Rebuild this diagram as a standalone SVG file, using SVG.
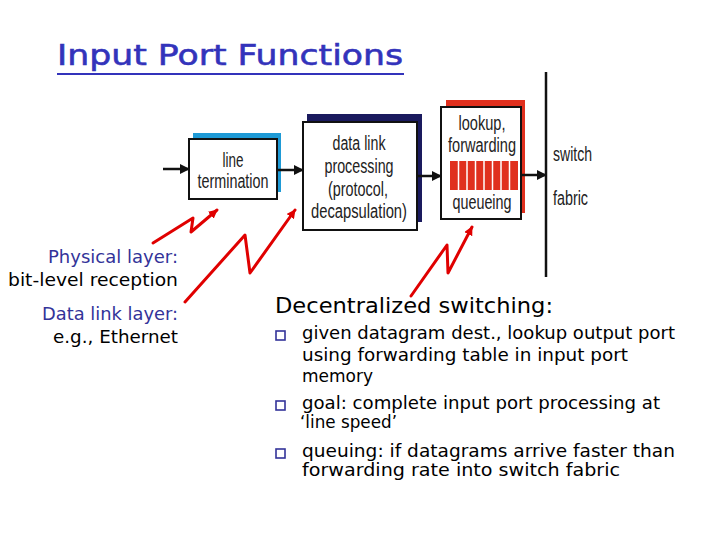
<svg xmlns="http://www.w3.org/2000/svg" width="720" height="540" viewBox="0 0 720 540">
<defs>
<marker id="ah" viewBox="0 0 10 10" refX="9" refY="5" markerWidth="10" markerHeight="12" markerUnits="userSpaceOnUse" orient="auto">
<path d="M0,0 L10,5 L0,10 z" fill="#111"/>
</marker>
<marker id="rh" viewBox="0 0 10 10" refX="9" refY="5" markerWidth="9" markerHeight="9" markerUnits="userSpaceOnUse" orient="auto">
<path d="M0,0 L10,5 L0,10 z" fill="#e00000"/>
</marker>
</defs>
<style>
.box{fill:#fff;stroke:#111;stroke-width:2}
.bt{font-family:"Liberation Sans Narrow","Liberation Sans",Arial,sans-serif;font-size:20px;fill:#222;text-anchor:middle}
.st{font-family:"Liberation Sans Narrow","Liberation Sans",Arial,sans-serif;font-size:20px;fill:#222}
.conn{stroke:#111;stroke-width:2.5;fill:none;marker-end:url(#ah)}
.zig{stroke:#e00000;stroke-width:3;fill:none;stroke-linejoin:round;stroke-linecap:round;marker-end:url(#rh)}
.lh{font-family:"DejaVu Sans",sans-serif;font-size:17px;fill:#333399;text-anchor:end}
.lb{font-family:"DejaVu Sans",sans-serif;font-size:17px;fill:#000;text-anchor:end}
.tx{font-family:"DejaVu Sans",sans-serif;font-size:18px;fill:#000}
.bul{fill:#fff;stroke:#333399;stroke-width:1.6}
</style>
<rect width="720" height="540" fill="#fff"/>
<g id="title">
<text x="57" y="65" font-family="DejaVu Sans,sans-serif" font-size="29" fill="#3333bb" stroke="#3333bb" stroke-width="0.6" textLength="346" lengthAdjust="spacingAndGlyphs">Input Port Functions</text>
<line x1="57" y1="74" x2="404" y2="74" stroke="#3333bb" stroke-width="2"/>
</g>
<g id="line-termination">
<rect x="193" y="133" width="88" height="59" fill="#1e9ad6"/>
<rect class="box" x="189" y="139" width="88" height="60"/>
<text class="bt" x="233" y="167" textLength="21" lengthAdjust="spacingAndGlyphs">line</text>
<text class="bt" x="233" y="188" textLength="71" lengthAdjust="spacingAndGlyphs">termination</text>
</g>
<g id="data-link">
<rect x="307" y="114" width="115" height="108" fill="#1a1a5e"/>
<rect class="box" x="303" y="122" width="114" height="108"/>
<text class="bt" x="359" y="150" textLength="53" lengthAdjust="spacingAndGlyphs">data link</text>
<text class="bt" x="359" y="173" textLength="69" lengthAdjust="spacingAndGlyphs">processing</text>
<text class="bt" x="358" y="196" textLength="60" lengthAdjust="spacingAndGlyphs">(protocol,</text>
<text class="bt" x="359" y="218" textLength="96" lengthAdjust="spacingAndGlyphs">decapsulation)</text>
</g>
<g id="lookup">
<rect x="446" y="100" width="79" height="113" fill="#e0301e"/>
<rect class="box" x="441" y="107" width="80" height="112"/>
<text class="bt" x="482" y="130" textLength="47" lengthAdjust="spacingAndGlyphs">lookup,</text>
<text class="bt" x="482" y="152" textLength="68" lengthAdjust="spacingAndGlyphs">forwarding</text>
<rect x="450" y="161" width="68" height="29" fill="#e0301e"/>
<g stroke="#fff" stroke-width="1.5">
<line x1="458.5" y1="161" x2="458.5" y2="190"/>
<line x1="467" y1="161" x2="467" y2="190"/>
<line x1="475.5" y1="161" x2="475.5" y2="190"/>
<line x1="484" y1="161" x2="484" y2="190"/>
<line x1="492.5" y1="161" x2="492.5" y2="190"/>
<line x1="501" y1="161" x2="501" y2="190"/>
<line x1="509.5" y1="161" x2="509.5" y2="190"/>
</g>
<text class="bt" x="482" y="209" textLength="59" lengthAdjust="spacingAndGlyphs">queueing</text>
</g>
<g id="switch-fabric">
<line x1="546" y1="72" x2="546" y2="277" stroke="#111" stroke-width="2.5"/>
<text class="st" x="553" y="161" textLength="39" lengthAdjust="spacingAndGlyphs">switch</text>
<text class="st" x="553" y="205" textLength="35" lengthAdjust="spacingAndGlyphs">fabric</text>
</g>
<g id="connectors">
<line class="conn" x1="163" y1="169" x2="189" y2="169"/>
<line class="conn" x1="277" y1="170" x2="303" y2="170"/>
<line class="conn" x1="417" y1="176" x2="441" y2="176"/>
<line class="conn" x1="521" y1="175" x2="546" y2="175"/>
<polyline class="zig" points="153,243 193,218 191,232 217,210"/>
<polyline class="zig" points="185,302 245,235 250,273 295,210"/>
<polyline class="zig" points="411,296 447,245 448,273 472,227"/>
</g>
<g id="layer-labels">
<text class="lh" x="178" y="263" textLength="130" lengthAdjust="spacingAndGlyphs">Physical layer:</text>
<text class="lb" x="178" y="286" textLength="170" lengthAdjust="spacingAndGlyphs">bit-level reception</text>
<text class="lh" x="178" y="320" textLength="136" lengthAdjust="spacingAndGlyphs">Data link layer:</text>
<text class="lb" x="178" y="343" textLength="125" lengthAdjust="spacingAndGlyphs">e.g., Ethernet</text>
</g>
<g id="decentralized">
<text x="275" y="313" font-family="DejaVu Sans,sans-serif" font-size="21" fill="#000" textLength="278" lengthAdjust="spacingAndGlyphs">Decentralized switching:</text>
<rect class="bul" x="276" y="331" width="9" height="9"/>
<rect class="bul" x="276" y="401" width="9" height="9"/>
<rect class="bul" x="276" y="449" width="9" height="9"/>
<text class="tx" x="302" y="339" textLength="373" lengthAdjust="spacingAndGlyphs">given datagram dest., lookup output port</text>
<text class="tx" x="302" y="361" textLength="326" lengthAdjust="spacingAndGlyphs">using forwarding table in input port</text>
<text class="tx" x="302" y="382" textLength="71" lengthAdjust="spacingAndGlyphs">memory</text>
<text class="tx" x="302" y="409" textLength="358" lengthAdjust="spacingAndGlyphs">goal: complete input port processing at</text>
<text class="tx" x="300" y="428" textLength="97" lengthAdjust="spacingAndGlyphs">‘line speed’</text>
<text class="tx" x="302" y="457" textLength="373" lengthAdjust="spacingAndGlyphs">queuing: if datagrams arrive faster than</text>
<text class="tx" x="302" y="476" textLength="318" lengthAdjust="spacingAndGlyphs">forwarding rate into switch fabric</text>
</g>
</svg>
